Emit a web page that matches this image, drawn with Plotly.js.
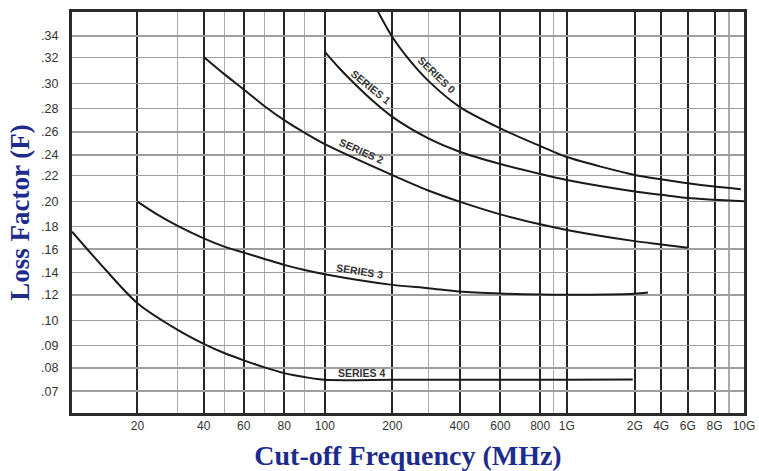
<!DOCTYPE html>
<html>
<head>
<meta charset="utf-8">
<script src="https://cdn.plot.ly/plotly-3.0.1.min.js"></script>
<style>html,body{margin:0;padding:0;background:#fff;}#chart{width:759px;height:471px;}</style>
</head>
<body>
<div id="chart"></div>
<script>
// ---------- data (frequency in MHz, loss factor F) ----------
const S0_FREQ = [170, 200, 245, 300, 400, 600, 800, 1000, 2000, 4000, 6000, 8000, 9780];
const S0_F    = [.365, .339, .3172, .302, .2813, .2629, .2476, .2378, .2204, .217, .214, .2115, .2095];

const S1_FREQ = [100, 115, 134, 165, 200, 300, 400, 600, 800, 1000, 2000, 4000, 6000, 8000, 10000];
const S1_F    = [.3252, .3125, .3008, .2855, .2728, .2543, .2426, .231, .2213, .2164, .2077, .2052, .2027, .2014, .2002];

const S2_FREQ = [40, 50, 60, 70, 80, 90, 100, 200, 300, 400, 600, 800, 1000, 2000, 4000, 6000];
const S2_F    = [.3205, .3072, .2952, .2818, .27, .2592, .2493, .2203, .2085, .20, .1898, .1818, .177, .1671, .1642, .1612];

const S3_FREQ = [20, 24.6, 30, 40, 50, 60, 70, 80, 90, 100, 200, 300, 400, 600, 800, 1000, 2000, 2830];
const S3_F    = [.20, .1893, .1805, .1695, .1622, .157, .1516, .1465, .1421, .1384, .129, .1261, .1231, .1213, .1204, .1202, .1212, .1222];

const S4_FREQ = [10, 14, 20, 30, 40, 50, 60, 70, 80, 90, 100, 200, 400, 1000, 1960];
const S4_F    = [.1755, .144, .1136, .0962, .0906, .0866, .0834, .0803, .0778, .0761, .0749, .0749, .0749, .0749, .0750];

const SERIES_NAMES = ['SERIES 0', 'SERIES 1', 'SERIES 2', 'SERIES 3', 'SERIES 4'];
const LABEL_FREQ = [324.5, 160.4, 146.2, 143.3, 145];
const LABEL_F    = [.3064, .297, .2437, .1408, .078];

// tick labels
const X_TICKS = [20, 40, 60, 80, 100, 200, 400, 600, 800, 1000, 2000, 4000, 6000, 8000, 10000];
const X_TICK_TEXT = ['20', '40', '60', '80', '100', '200', '400', '600', '800', '1G', '2G', '4G', '6G', '8G', '10G'];
const X_MINOR = [30, 50, 70, 90, 300, 900, 9000];
const Y_TICKS = [.07, .08, .09, .10, .12, .14, .16, .18, .20, .22, .24, .26, .28, .30, .32, .34];
const Y_TICK_TEXT = ['.07', '.08', '.09', '.10', '.12', '.14', '.16', '.18', '.20', '.22', '.24', '.26', '.28', '.30', '.32', '.34'];

// ---------- custom nomogram scales (piecewise, as printed on the chart) ----------
const XSCALE_F = [10, 20, 30, 40, 50, 60, 70, 80, 90, 100, 200, 300, 400, 600, 800, 900, 1000, 2000, 4000, 6000, 8000, 9000, 10000];
const XSCALE_U = [0, 65.4, 105.6, 131.7, 152.2, 171.7, 192.5, 212.1, 232.5, 252.7, 320.2, 356.2, 387.4, 428.2, 468, 481.2, 494.6, 562.5, 588.9, 615.5, 642.3, 656.7, 671.7];
const YSCALE_V = [.07, .08, .09, .10, .12, .14, .16, .18, .20, .22, .24, .26, .28, .30, .32, .34, .36];
const YSCALE_U = [21.9, 45, 67.8, 92.8, 118.1, 140.8, 164.1, 186.7, 211.7, 238, 258.6, 281.6, 305, 330, 356, 377.6, 399.3];

function xs(f) {
  const K = XSCALE_F, U = XSCALE_U;
  let i = 0;
  while (i < K.length - 2 && f > K[i + 1]) i++;
  const t = Math.log(f / K[i]) / Math.log(K[i + 1] / K[i]);
  return U[i] + t * (U[i + 1] - U[i]);
}
function ys(v) {
  const K = YSCALE_V, U = YSCALE_U;
  let i = 0;
  while (i < K.length - 2 && v > K[i + 1]) i++;
  const t = (v - K[i]) / (K[i + 1] - K[i]);
  return U[i] + t * (U[i + 1] - U[i]);
}

const SERIES = [[S0_FREQ, S0_F], [S1_FREQ, S1_F], [S2_FREQ, S2_F], [S3_FREQ, S3_F], [S4_FREQ, S4_F]];
const traces = SERIES.map((s, k) => ({
  type: 'scatter', mode: 'lines', name: SERIES_NAMES[k],
  x: s[0].map(xs), y: s[1].map(ys),
  line: {color: '#1a1a1a', width: 2, shape: 'spline', smoothing: 0.8},
  hoverinfo: 'skip'
}));

const LABEL_ANGLE = [44, 39, 24, 9, 0];
const annotations = SERIES_NAMES.map((t, k) => ({
  x: xs(LABEL_FREQ[k]), y: ys(LABEL_F[k]), xref: 'x', yref: 'y',
  text: '<b>' + t + '</b>', showarrow: false, textangle: LABEL_ANGLE[k],
  xanchor: 'center', yanchor: 'middle',
  font: {family: 'Liberation Sans, Arial, sans-serif', size: 10.5, color: '#333'}
}));

const titleFont = {family: 'Liberation Serif, Times New Roman, serif', color: '#1c2b8c', weight: 'bold'};

const layout = {
  width: 759, height: 471,
  margin: {l: 72, r: 15, t: 12, b: 58},
  paper_bgcolor: '#fff', plot_bgcolor: '#fff',
  showlegend: false,
  xaxis: {
    type: 'linear', range: [0, 671.7], fixedrange: true,
    tickmode: 'array', tickvals: X_TICKS.map(xs), ticktext: X_TICK_TEXT,
    ticks: '', showgrid: true, gridcolor: '#262626', gridwidth: 2,
    minor: {tickmode: 'array', tickvals: X_MINOR.map(xs), showgrid: true, gridcolor: '#ababab', gridwidth: 1.5, ticks: ''},
    zeroline: false, showline: true, mirror: true, linecolor: '#2a2a2a', linewidth: 3,
    tickfont: {family: 'Liberation Sans, Arial, sans-serif', size: 12, color: '#333'},
    title: {text: 'Cut-off Frequency (MHz)', font: Object.assign({size: 28}, titleFont), standoff: 13}
  },
  yaxis: {
    type: 'linear', range: [0, 401.6], fixedrange: true,
    tickmode: 'array', tickvals: Y_TICKS.map(ys), ticktext: Y_TICK_TEXT,
    ticks: '', showgrid: true, gridcolor: '#9e9e9e', gridwidth: 1.5,
    zeroline: false, showline: true, mirror: true, linecolor: '#2a2a2a', linewidth: 3,
    ticklabelstandoff: 8,
    tickfont: {family: 'Liberation Sans, Arial, sans-serif', size: 12.5, color: '#333'},
    title: {text: 'Loss Factor (F)', font: Object.assign({size: 27}, titleFont), standoff: 4}
  },
  annotations: annotations
};

Plotly.newPlot('chart', traces, layout, {staticPlot: true, displayModeBar: false});
</script>
</body>
</html>
